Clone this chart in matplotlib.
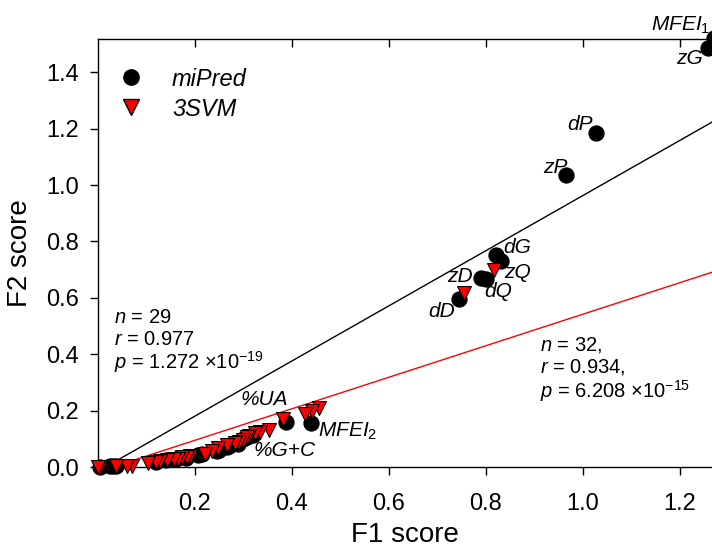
import matplotlib
matplotlib.use('Agg')
import matplotlib.pyplot as plt
from matplotlib.lines import Line2D
import numpy as np

plt.rcParams['font.family'] = ['Liberation Sans', 'DejaVu Sans']
plt.rcParams['mathtext.fontset'] = 'custom'
plt.rcParams['mathtext.rm'] = 'Liberation Sans'
plt.rcParams['mathtext.it'] = 'Liberation Sans:italic'
plt.rcParams['mathtext.bf'] = 'Liberation Sans:bold'

# miPred (black circles)
mipred_f1 = [1.270, 1.258, 1.027, 0.965, 0.821, 0.831, 0.790, 0.800, 0.744,
             0.439, 0.388, 0.320, 0.307, 0.300, 0.289, 0.270, 0.266, 0.250,
             0.245, 0.215, 0.206, 0.181, 0.160, 0.140, 0.120, 0.037, 0.030,
             0.025, 0.005]
mipred_f2 = [1.520, 1.486, 1.184, 1.035, 0.752, 0.730, 0.672, 0.668, 0.596,
             0.156, 0.158, 0.115, 0.105, 0.100, 0.080, 0.075, 0.070, 0.060,
             0.055, 0.045, 0.043, 0.033, 0.030, 0.025, 0.018, 0.004, 0.002,
             0.003, 0.000]

# 3SVM (red triangles)
svm_f1 = [0.816, 0.755, 0.456, 0.441, 0.427, 0.381, 0.352, 0.334, 0.324,
          0.312, 0.307, 0.299, 0.290, 0.283, 0.266, 0.247, 0.235, 0.221,
          0.190, 0.183, 0.173, 0.165, 0.157, 0.142, 0.128, 0.120, 0.103,
          0.070, 0.060, 0.037, 0.004, 0.000]
svm_f2 = [0.699, 0.617, 0.209, 0.198, 0.188, 0.170, 0.130, 0.124, 0.119,
          0.110, 0.107, 0.095, 0.090, 0.086, 0.078, 0.066, 0.055, 0.046,
          0.040, 0.036, 0.034, 0.030, 0.030, 0.025, 0.020, 0.018, 0.014,
          0.004, 0.003, 0.002, 0.000, 0.000]

# regression lines (slope, intercept)
fit_mipred = (0.978, -0.015)
fit_svm = (0.559, -0.017)

fig = plt.figure(figsize=(7.12, 5.49), dpi=100)
ax = fig.add_axes([98 / 712, 1 - 467 / 549, 614 / 712, 428 / 549])

xs = np.array([0.0, 1.4])
ax.plot(xs, fit_mipred[0] * xs + fit_mipred[1], color='black', lw=1.0, zorder=1)
ax.plot(xs, fit_svm[0] * xs + fit_svm[1], color='red', lw=1.0, zorder=1)

ax.scatter(mipred_f1, mipred_f2, s=115, marker='o', color='black',
           zorder=3, clip_on=False)
ax.scatter(svm_f1, svm_f2, s=100, marker='v', facecolor='red',
           edgecolor='black', linewidth=0.8, zorder=4, clip_on=False)

ax.set_xlim(0, 1.266)
ax.set_ylim(0, 1.518)
ax.set_xticks([0.2, 0.4, 0.6, 0.8, 1.0, 1.2])
ax.set_xticklabels(['0.2', '0.4', '0.6', '0.8', '1.0', '1.2'])
ax.set_yticks([0.0, 0.2, 0.4, 0.6, 0.8, 1.0, 1.2, 1.4])
ax.set_yticklabels(['0.0', '0.2', '0.4', '0.6', '0.8', '1.0', '1.2', '1.4'])
ax.tick_params(axis='x', direction='out', length=6, width=1, pad=13,
               labelsize=17, top=True)
ax.tick_params(axis='y', direction='out', length=6, width=1, pad=8,
               labelsize=17)
ax.spines['right'].set_visible(False)
for sp in ['left', 'bottom', 'top']:
    ax.spines[sp].set_linewidth(1.0)
# top ticks point inward
for t in ax.xaxis.get_ticklines(minor=False)[1::2]:
    t.set_marker(3)
    t.set_markersize(6)

ax.set_xlabel('F1 score', fontsize=20, labelpad=5)
ax.set_ylabel('F2 score', fontsize=20, labelpad=9)

# legend
handles = [Line2D([], [], marker='o', color='black', ls='none', markersize=11),
           Line2D([], [], marker='v', markerfacecolor='red',
                  markeredgecolor='black', ls='none', markersize=11)]
ax.legend(handles, ['miPred', '3SVM'], loc='upper left',
          bbox_to_anchor=(-0.012, 0.972), frameon=False,
          prop={'size': 17, 'style': 'italic'}, handletextpad=0.75,
          labelspacing=0.3, borderpad=0.2)

# point labels
lab = dict(fontsize=15, style='italic')
ax.text(1.14, 1.548, r'$MFEI_1$', fontsize=15, ha='left', va='baseline',
        clip_on=False)
ax.text(1.247, 1.45, 'zG', ha='right', va='center', **lab)
ax.text(1.021, 1.216, 'dP', ha='right', va='center', **lab)
ax.text(0.969, 1.064, 'zP', ha='right', va='center', **lab)
ax.text(0.835, 0.780, 'dG', ha='left', va='center', **lab)
ax.text(0.837, 0.691, 'zQ', ha='left', va='center', **lab)
ax.text(0.773, 0.674, 'zD', ha='right', va='center', **lab)
ax.text(0.796, 0.624, 'dQ', ha='left', va='center', **lab)
ax.text(0.736, 0.553, 'dD', ha='right', va='center', **lab)
ax.text(0.293, 0.238, '%UA', ha='left', va='center', **lab)
ax.text(0.454, 0.106, r'$MFEI_2$', fontsize=15, ha='left', va='baseline')
ax.text(0.32, 0.06, '%G+C', ha='left', va='center', **lab)

# statistics
st = dict(fontsize=14.5, ha='left', va='center')
ax.text(0.033, 0.532, r'$n$ = 29', **st)
ax.text(0.033, 0.452, r'$r$ = 0.977', **st)
ax.text(0.033, 0.374, r'$p$ = 1.272 ×10$^{\mathregular{-19}}$', **st)
ax.text(0.911, 0.433, r'$n$ = 32,', **st)
ax.text(0.911, 0.353, r'$r$ = 0.934,', **st)
ax.text(0.911, 0.268, r'$p$ = 6.208 ×10$^{\mathregular{-15}}$', **st)

fig.savefig('out.png', dpi=100)
